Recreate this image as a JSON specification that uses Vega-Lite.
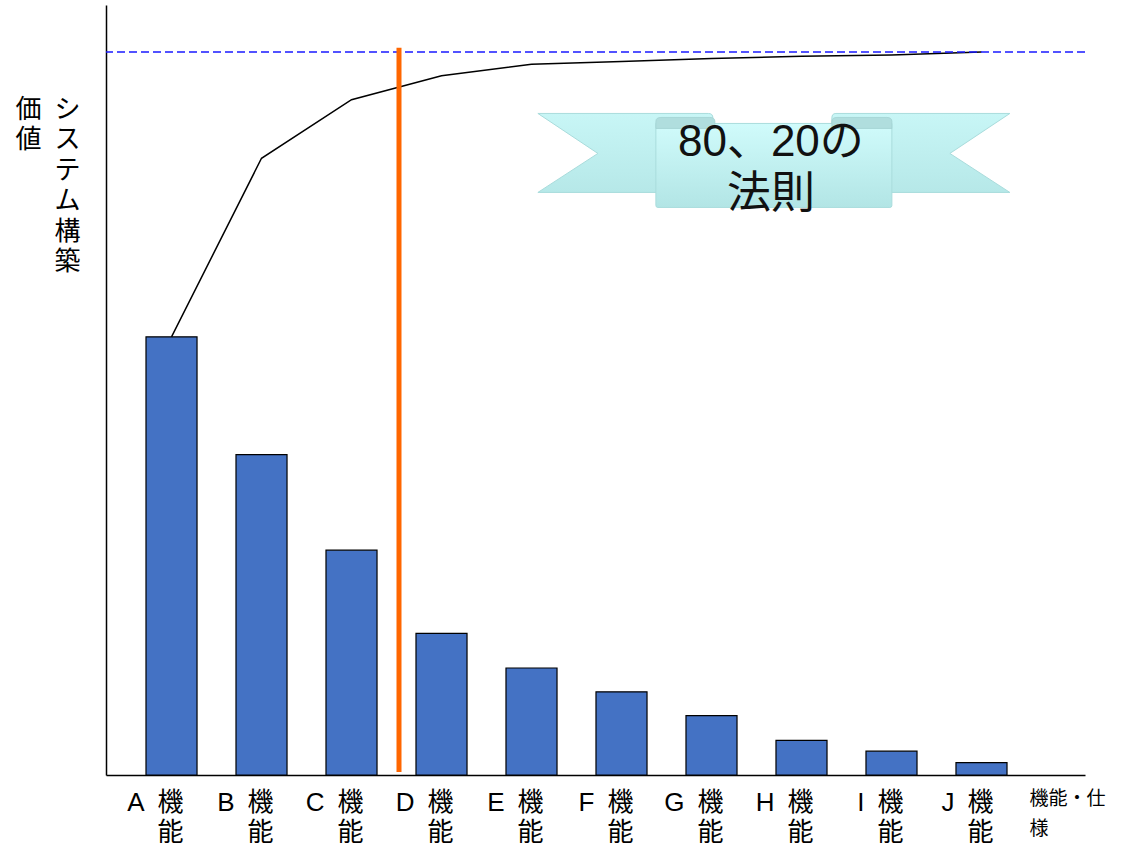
{
  "$schema": "https://vega.github.io/schema/vega-lite/v6.json",
  "width": 979,
  "height": 770,
  "autosize": {"type": "none"},
  "padding": {"left": 106, "top": 5, "right": 47, "bottom": 77},
  "background": "white",
  "config": {"view": {"stroke": null}, "font": "Liberation Sans, Noto Sans CJK JP"},
  "data": {
    "values": [
      {"item": "A", "value": 60.6, "cumulative": 60.6},
      {"item": "B", "value": 44.3, "cumulative": 85.3},
      {"item": "C", "value": 31.1, "cumulative": 93.4},
      {"item": "D", "value": 19.6, "cumulative": 96.7},
      {"item": "E", "value": 14.8, "cumulative": 98.3},
      {"item": "F", "value": 11.5, "cumulative": 98.7},
      {"item": "G", "value": 8.2, "cumulative": 99.1},
      {"item": "H", "value": 4.8, "cumulative": 99.4},
      {"item": "I", "value": 3.3, "cumulative": 99.6},
      {"item": "J", "value": 1.7, "cumulative": 100}
    ]
  },
  "layer": [
    {
      "mark": {"type": "bar", "fill": "#4472C4", "stroke": "#000000", "strokeWidth": 1.2},
      "encoding": {
        "x": {
          "field": "item", "type": "nominal", "sort": null,
          "scale": {"paddingInner": 0.433, "paddingOuter": 0.6555, "align": 0.339},
          "axis": {
            "title": ["機能・仕", "様"],
            "titleFont": "Noto Sans CJK JP", "titleFontSize": 19, "titleFontWeight": "normal",
            "titleAlign": "left", "titleBaseline": "top", "titleX": 923, "titleY": 14,
            "titleLineHeight": 30, "titleColor": "#000000",
            "labelExpr": "[datum.label + '\u2002機', '能']",
            "labelAngle": 0, "labelAlign": "right", "labelOffset": 12, "labelBaseline": "top",
            "labelPadding": 14, "labelFontSize": 26, "labelLineHeight": 30, "labelColor": "#000000",
            "labelOverlap": false, "labelBound": false, "labelLimit": 300,
            "ticks": false, "grid": false, "domainColor": "#000000", "domainWidth": 1.5
          }
        },
        "y": {
          "field": "value", "type": "quantitative",
          "scale": {"domain": [0, 106.5], "nice": false, "zero": true},
          "axis": {
            "title": ["\u200B価\u2002シ", "\u200B値\u2002ス", "\u200B\u3000\u2002テ", "\u200B\u3000\u2002ム", "\u200B\u3000\u2002構", "\u200B\u3000\u2002築"],
            "titleFont": "Noto Sans CJK JP", "titleFontSize": 26, "titleFontWeight": "normal",
            "titleAngle": 0, "titleAlign": "left", "titleBaseline": "top",
            "titleX": -91, "titleY": 91, "titleLineHeight": 30.5, "titleColor": "#000000",
            "labels": false, "ticks": false, "grid": false,
            "domainColor": "#000000", "domainWidth": 1.5
          }
        }
      }
    },
    {
      "mark": {"type": "line", "color": "#000000", "strokeWidth": 1.5},
      "encoding": {
        "x": {"field": "item", "type": "nominal", "sort": null},
        "y": {"field": "cumulative", "type": "quantitative"}
      }
    },
    {
      "data": {"values": [{}]},
      "mark": {"type": "rule", "color": "#1a1aff", "strokeWidth": 1.6, "strokeDash": [8, 4]},
      "encoding": {
        "y": {"datum": 100, "type": "quantitative"}
      }
    },
    {
      "data": {"values": [{}]},
      "mark": {"type": "rule", "color": "#FF6600", "strokeWidth": 5},
      "encoding": {
        "x": {"datum": "D", "type": "nominal", "bandPosition": -0.333},
        "y": {"datum": 0.4, "type": "quantitative"},
        "y2": {"datum": 100.6}
      }
    },
    {
      "data": {"values": [{"item": "H", "v": 85}]},
      "mark": {
        "type": "point", "filled": true, "size": 250000, "opacity": 1,
        "shape": "M-0.932,-0.188L-0.25,-0.188Q-0.232,-0.188 -0.232,-0.17L-0.232,0.128L-0.932,0.128L-0.692,-0.028Z M0.26,-0.188L0.956,-0.188L0.716,-0.028L0.956,0.128L0.244,0.128L0.244,-0.17Q0.244,-0.188 0.26,-0.188Z",
        "fill": {"gradient": "linear", "x1": 0, "y1": 0, "x2": 0, "y2": 1,
          "stops": [{"offset": 0, "color": "#c8f6f6"}, {"offset": 1, "color": "#b6e8e8"}]},
        "stroke": "#a9dcdc", "strokeWidth": 1
      },
      "encoding": {
        "x": {"field": "item", "type": "nominal", "bandPosition": -0.1},
        "y": {"field": "v", "type": "quantitative"}
      }
    },
    {
      "data": {"values": [{"item": "H", "v": 85}]},
      "mark": {
        "type": "point", "filled": true, "size": 250000, "opacity": 1,
        "shape": "M-0.46,-0.148L0.484,-0.148L0.484,0.18Q0.484,0.188 0.476,0.188L-0.452,0.188Q-0.46,0.188 -0.46,0.18Z",
        "fill": {"gradient": "linear", "x1": 0, "y1": 0, "x2": 0, "y2": 1,
          "stops": [{"offset": 0, "color": "#d0fbfb"}, {"offset": 1, "color": "#b2e5e5"}]},
        "stroke": "#a9dcdc", "strokeWidth": 1
      },
      "encoding": {
        "x": {"field": "item", "type": "nominal", "bandPosition": -0.1},
        "y": {"field": "v", "type": "quantitative"}
      }
    },
    {
      "data": {"values": [{"item": "H", "v": 85}]},
      "mark": {
        "type": "point", "filled": true, "size": 250000, "opacity": 1,
        "shape": "M-0.46,-0.128L-0.46,-0.156Q-0.46,-0.172 -0.44,-0.172L-0.244,-0.172Q-0.224,-0.172 -0.224,-0.156L-0.224,-0.128Z M0.244,-0.128L0.244,-0.156Q0.244,-0.172 0.264,-0.172L0.464,-0.172Q0.484,-0.172 0.484,-0.156L0.484,-0.128Z",
        "fill": "#b0dede", "stroke": "#a2d2d2", "strokeWidth": 0.8
      },
      "encoding": {
        "x": {"field": "item", "type": "nominal", "bandPosition": -0.1},
        "y": {"field": "v", "type": "quantitative"}
      }
    },
    {
      "data": {"values": [{"item": "H", "v": 87.4, "label": "80、20の\n法則"}]},
      "mark": {
        "type": "text", "font": "Liberation Sans, Noto Sans CJK JP", "fontSize": 44,
        "lineHeight": 52, "lineBreak": "\n", "color": "#111111", "align": "center", "baseline": "middle"
      },
      "encoding": {
        "x": {"field": "item", "type": "nominal", "bandPosition": -0.1},
        "y": {"field": "v", "type": "quantitative"},
        "text": {"field": "label"}
      }
    }
  ]
}
